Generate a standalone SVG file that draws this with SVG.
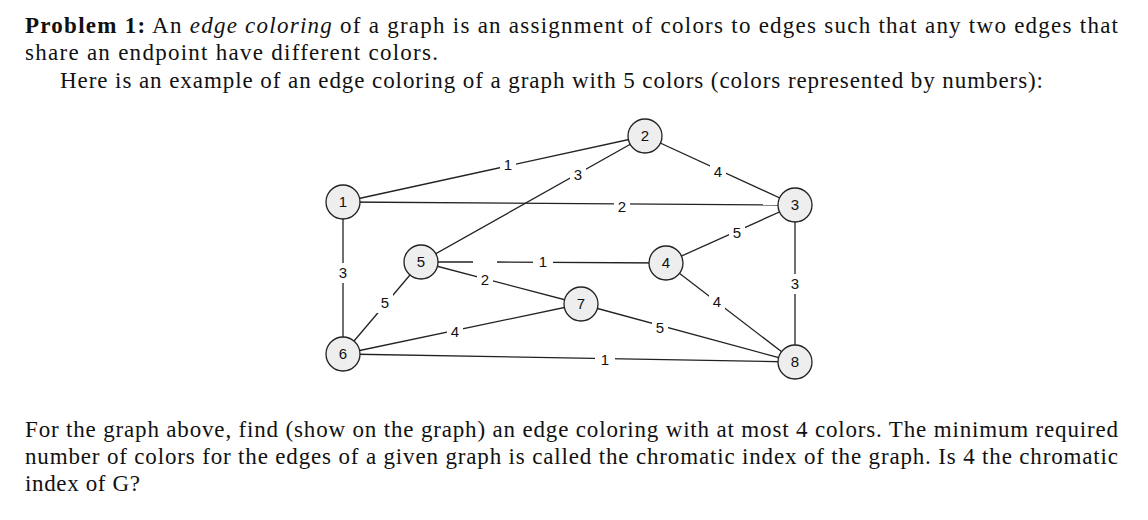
<svg xmlns="http://www.w3.org/2000/svg" width="1148" height="520" viewBox="0 0 1148 520">
<style>
.t{font-family:"Liberation Serif",serif;font-size:23px;fill:#111}
.b{font-weight:bold}
.n circle{fill:#eee;stroke:#222;stroke-width:1.3}
.n text,.l text{font-family:"Liberation Sans",Arial,sans-serif;font-size:15px;text-anchor:middle;fill:#111}
.e line{stroke:#222;stroke-width:1.3}
.l rect{fill:#fff}
</style>
<rect width="1148" height="520" fill="#fff"/>
<text class="t" x="25" y="33" textLength="1093" lengthAdjust="spacing"><tspan class="b">Problem 1:</tspan> An <tspan font-style="italic">edge coloring</tspan> of a graph is an assignment of colors to edges such that any two edges that</text>
<text class="t" x="25" y="60" textLength="413" lengthAdjust="spacing">share an endpoint have different colors.</text>
<text class="t" x="60" y="88" textLength="983" lengthAdjust="spacing">Here is an example of an edge coloring of a graph with 5 colors (colors represented by numbers):</text>
<g class="e" id="edges">
<line x1="343" y1="202" x2="645" y2="136"/>
<line x1="421" y1="262" x2="645" y2="136"/>
<line x1="645" y1="136" x2="795" y2="205"/>
<line x1="343" y1="202" x2="795" y2="205"/>
<line x1="666" y1="263" x2="795" y2="205"/>
<line x1="421" y1="262" x2="473" y2="262"/>
<line x1="497" y1="262" x2="666" y2="263"/>
<line x1="421" y1="262" x2="581" y2="304"/>
<line x1="343" y1="202" x2="343" y2="354"/>
<line x1="421" y1="262" x2="343" y2="354"/>
<line x1="343" y1="354" x2="581" y2="304"/>
<line x1="666" y1="263" x2="795" y2="362"/>
<line x1="581" y1="304" x2="795" y2="362"/>
<line x1="795" y1="205" x2="795" y2="362"/>
<line x1="343" y1="354" x2="795" y2="362"/>
</g>
<g class="l" id="labels">
<rect x="500" y="155" width="16" height="20"/><text x="508" y="170">1</text>
<rect x="570" y="165" width="16" height="20"/><text x="578" y="180">3</text>
<rect x="710" y="162" width="16" height="20"/><text x="718" y="177">4</text>
<rect x="614" y="197" width="16" height="20"/><text x="622" y="212">2</text>
<rect x="729" y="223" width="16" height="20"/><text x="737" y="238">5</text>
<rect x="533" y="252" width="20" height="20"/><text x="543" y="267">1</text>
<rect x="477" y="270" width="16" height="20"/><text x="485" y="285">2</text>
<rect x="335" y="263" width="16" height="20"/><text x="343" y="278">3</text>
<rect x="377" y="293" width="16" height="20"/><text x="385" y="308">5</text>
<rect x="447" y="322" width="16" height="20"/><text x="455" y="337">4</text>
<rect x="709" y="292" width="16" height="20"/><text x="717" y="307">4</text>
<rect x="652" y="318" width="16" height="20"/><text x="660" y="333">5</text>
<rect x="787" y="274" width="16" height="20"/><text x="795" y="289">3</text>
<rect x="595" y="350" width="20" height="20"/><text x="605" y="365">1</text>
</g>
<g class="n" id="n1"><circle cx="343" cy="202" r="17"/><text x="343" y="207">1</text></g>
<g class="n" id="n2"><circle cx="645" cy="136" r="17"/><text x="645" y="141">2</text></g>
<g class="n" id="n3"><circle cx="795" cy="205" r="17"/><text x="795" y="210">3</text></g>
<g class="n" id="n4"><circle cx="666" cy="263" r="17"/><text x="666" y="268">4</text></g>
<g class="n" id="n5"><circle cx="421" cy="262" r="17"/><text x="421" y="267">5</text></g>
<g class="n" id="n6"><circle cx="343" cy="354" r="17"/><text x="343" y="359">6</text></g>
<g class="n" id="n7"><circle cx="581" cy="304" r="17"/><text x="581" y="309">7</text></g>
<g class="n" id="n8"><circle cx="795" cy="362" r="17"/><text x="795" y="367">8</text></g>
<text class="t" x="25" y="437" textLength="1093" lengthAdjust="spacing">For the graph above, find (show on the graph) an edge coloring with at most 4 colors. The minimum required</text>
<text class="t" x="25" y="464" textLength="1093" lengthAdjust="spacing">number of colors for the edges of a given graph is called the chromatic index of the graph. Is 4 the chromatic</text>
<text class="t" x="25" y="491" textLength="115" lengthAdjust="spacing">index of G?</text>
</svg>
